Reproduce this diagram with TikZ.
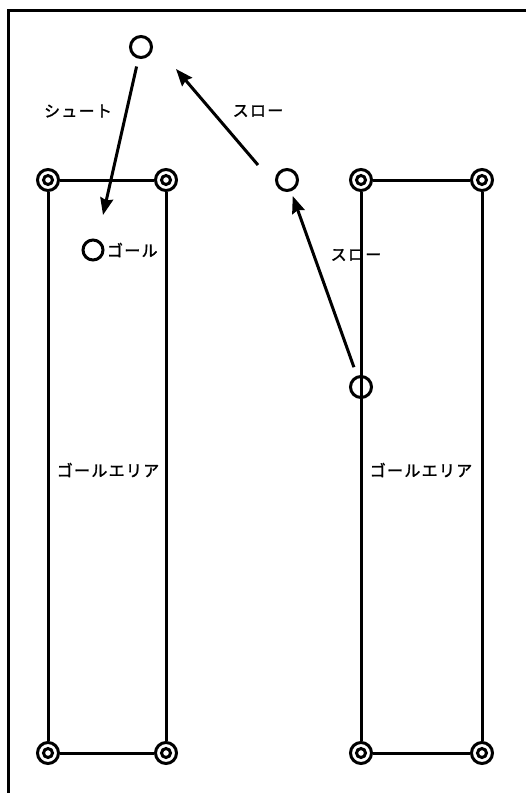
\documentclass[tikz,border=0pt]{standalone}
\usepackage{fontspec}
\newfontfamily\jpfont[LetterSpace=8,FakeBold=1.6]{Noto Sans CJK JP}
\usepackage{tikz}
\usetikzlibrary{arrows.meta,positioning}

\begin{document}
\begin{tikzpicture}[x=1pt,y=-1pt,line width=3pt,font=\jpfont\fontsize{16}{18}\selectfont,
    ball/.style={circle,draw,inner sep=0pt,minimum size=21pt},
    post/.style={circle,draw,inner sep=0pt,minimum size=21pt,
      path picture={\draw (path picture bounding box.center) circle (4.5pt);}},
    pass/.style={-{Stealth[length=17pt,width=13pt,inset=2pt]}}]
  \useasboundingbox (0,0) rectangle (526,793);
  % frame
  \draw (8,793) -- (8,10) -- (526,10);
  % goal areas
  \foreach \n/\x/\y in {la/48/180,lb/166/180,lc/166/753,ld/48/753,
                        ra/361/180,rb/482/180,rc/482/753,rd/361/753}
    \node[post] (\n) at (\x,\y) {};
  \draw (la) -- (lb) -- (lc) -- (ld) -- (la);
  \draw (ra) -- (rb) -- (rc) -- (rd) -- (ra);
  \node (areaL) at (108,470) {ゴールエリア};
  \node (areaR) at (421,470) {ゴールエリア};
  % balls
  \node[ball] (top) at (141,47) {};
  \node[ball] (mid) at (287,180) {};
  \node[ball] (low) at (361,387) {};
  \node[ball,minimum size=20pt] (goal) at (93,250) {};
  \node[anchor=west,inner sep=1pt] (goaltxt) at (goal.east) {ゴール};
  % passes
  \coordinate (shootend) at (103,215);
  \coordinate (throwAstart) at (258,165);
  \coordinate (throwAend) at (176,69);
  \draw[pass,shorten <=8pt] (top) -- (shootend);
  \draw[pass] (throwAstart) -- (throwAend);
  \draw[pass,shorten <=9pt,shorten >=5pt] (low) -- (mid);
  \node (shoot) at (78,111) {シュート};
  \node (throwA) at (258,111) {スロー};
  \node (throwB) at (356,255) {スロー};
\end{tikzpicture}
\end{document}
